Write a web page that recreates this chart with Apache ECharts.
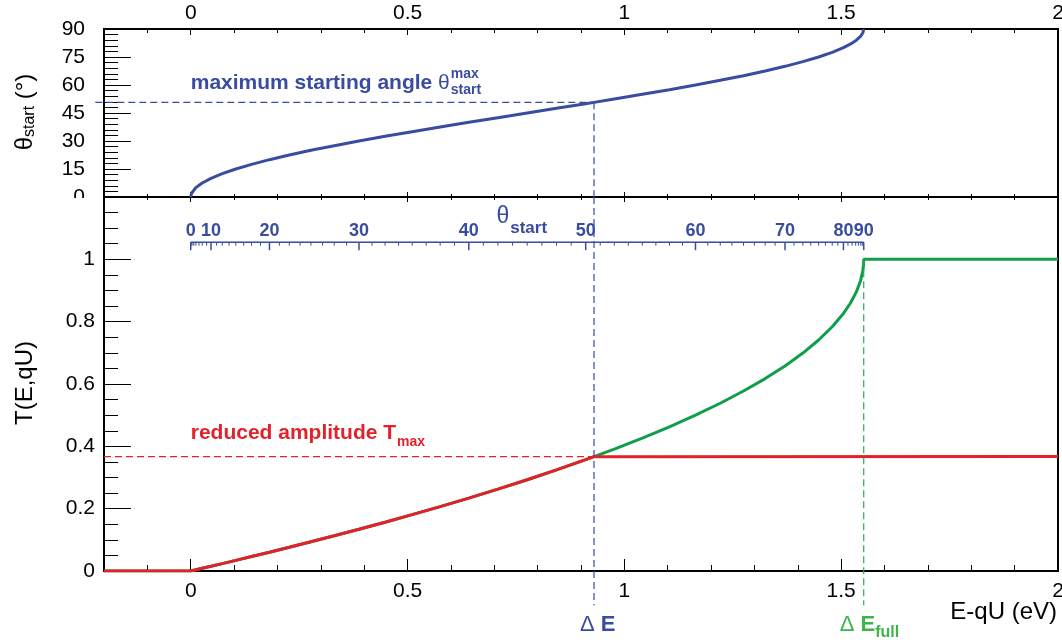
<!DOCTYPE html>
<html>
<head>
<meta charset="utf-8">
<script src="https://cdn.jsdelivr.net/npm/echarts@6/dist/echarts.min.js"></script>
<style>html,body{margin:0;padding:0;background:#fff}#c{width:1062px;height:644px}</style>
</head>
<body>
<div id="c"></div>
<script>
// ---- data ----
const energyCurve = [0, 0.0005, 0.0019, 0.0043, 0.0118, 0.0264, 0.0468, 0.0727, 0.1040, 0.1403, 0.1816, 0.2273, 0.2772, 0.3309, 0.3880, 0.4481, 0.5106, 0.5752, 0.6413, 0.7084, 0.7760, 0.8436, 0.9108, 0.9300, 0.9768, 1.0414, 1.1040, 1.1640, 1.2211, 1.2748, 1.3247, 1.3705, 1.4117, 1.4480, 1.4793, 1.5052, 1.5219, 1.5350, 1.5445, 1.5501, 1.5515, 1.5520];
const thetaCurve = [0, 1, 2, 3, 5, 7.5, 10, 12.5, 15, 17.5, 20, 22.5, 25, 27.5, 30, 32.5, 35, 37.5, 40, 42.5, 45, 47.5, 50, 50.7, 52.5, 55, 57.5, 60, 62.5, 65, 67.5, 70, 72.5, 75, 77.5, 80, 82, 84, 86, 88, 89, 90];
const transCurve = [0, 0.0002, 0.0006, 0.0014, 0.0038, 0.0086, 0.0152, 0.0237, 0.0341, 0.0463, 0.0603, 0.0761, 0.0937, 0.1130, 0.1340, 0.1566, 0.1809, 0.2067, 0.2340, 0.2627, 0.2929, 0.3244, 0.3572, 0.3669, 0.3912, 0.4264, 0.4627, 0.5000, 0.5383, 0.5774, 0.6173, 0.6580, 0.6993, 0.7412, 0.7836, 0.8264, 0.8608, 0.8955, 0.9302, 0.9651, 0.9826, 1.0];
const deltaE = 0.93;       // eV
const deltaEFull = 1.552;  // eV
const thetaMax = 50.7;     // deg
const tMax = 0.367;
const xRange = [-0.2, 2];
const xTickLabels = [0, 0.5, 1, 1.5, 2];
const thetaTickLabels = [0, 15, 30, 45, 60, 75, 90];
const tTickLabels = [0, 0.2, 0.4, 0.6, 0.8, 1];
const thetaAxisLabels = [0, 10, 20, 30, 40, 50, 60, 70, 80, 90];

// ---- styling ----
const FONT = '"Liberation Sans", Arial, Helvetica, sans-serif';
const BLUE = '#394ca0', RED = '#e3212b', GREEN = '#119e4a', GREEN_LABEL = '#3db54a', GREEN_DASH = '#2aab50';
const DASH = [7, 4];

const mctx = document.createElement('canvas').getContext('2d');
function tw(text, size, weight) { mctx.font = (weight || 'normal') + ' ' + size + 'px ' + FONT; return mctx.measureText(text).width; }
function txt(x, y, text, size, weight, color, align, extra) {
  return Object.assign({ type: 'text', x: x, y: y, style: { text: text, fontSize: size, fontWeight: weight || 'normal', fontFamily: FONT, fill: color, align: align || 'left', verticalAlign: 'middle' } }, extra || {});
}
function dline(a, b, color) {
  return { type: 'line', shape: { x1: a[0], y1: a[1], x2: b[0], y2: b[1] }, style: { stroke: color, lineWidth: 1.2, lineDash: DASH } };
}
// theta_start axis: position in E
function thetaToE(t) {
  for (let i = 1; i < thetaCurve.length; i++) {
    if (t <= thetaCurve[i]) {
      const f = (t - thetaCurve[i - 1]) / (thetaCurve[i] - thetaCurve[i - 1]);
      return energyCurve[i - 1] + f * (energyCurve[i] - energyCurve[i - 1]);
    }
  }
  return energyCurve[energyCurve.length - 1];
}
const thetaAxisTicks = [];
for (let t = 0; t <= 90.0001; t += 1.25) thetaAxisTicks.push(t);

const topData = energyCurve.map((e, i) => [e, thetaCurve[i]]);
const greenData = [[xRange[0], 0]].concat(energyCurve.map((e, i) => [e, transCurve[i]]), [[xRange[1], 1]]);
const redData = [[xRange[0], 0]].concat(energyCurve.map((e, i) => [e, transCurve[i]]).filter(p => p[0] <= deltaE + 1e-9), [[xRange[1], tMax]]);

function xAxisDef(grid, pos, len, major, labels, margin) {
  const a = {
    type: 'value', gridIndex: grid, position: pos, min: xRange[0], max: xRange[1],
    axisLine: { show: false, onZero: false }, splitLine: { show: false },
    axisTick: { show: true, inside: true, length: len, lineStyle: { color: '#000', width: 1 } },
    axisLabel: { show: false }
  };
  if (major) { a.axisTick.customValues = xTickLabels; } else { a.interval = 0.1; }
  if (labels) { a.axisLabel = { show: true, customValues: xTickLabels, fontSize: 21, fontFamily: FONT, color: '#000', margin: margin }; }
  return a;
}

const chart = echarts.init(document.getElementById('c'), null, { renderer: 'canvas' });

const option = {
  animation: false,
  backgroundColor: '#fff',
  grid: [
    { left: 104, top: 29, width: 954, height: 168, show: true, borderColor: '#000', borderWidth: 2, backgroundColor: 'transparent', outerBoundsMode: 'none', containLabel: false },
    { left: 104, top: 197, width: 954, height: 374, show: true, borderColor: '#000', borderWidth: 2, backgroundColor: 'transparent', outerBoundsMode: 'none', containLabel: false }
  ],
  xAxis: [
    xAxisDef(0, 'top', 4, false, true, 5),
    xAxisDef(0, 'top', 6, true, false),
    xAxisDef(0, 'bottom', 3, false, false),
    xAxisDef(0, 'bottom', 5, true, false),
    xAxisDef(1, 'bottom', 6, false, true, 10),
    xAxisDef(1, 'bottom', 12, true, false),
    xAxisDef(1, 'top', 3, false, false),
    xAxisDef(1, 'top', 5, true, false)
  ],
  yAxis: [
    { type: 'value', gridIndex: 0, min: 0, max: 90, interval: 15, position: 'left',
      axisLine: { show: false, onZero: false }, splitLine: { show: false },
      axisTick: { show: true, inside: true, length: 27, lineStyle: { color: '#000', width: 1 } },
      minorTick: { show: true, splitNumber: 5, length: 14, lineStyle: { color: '#000', width: 1 } },
      axisLabel: { customValues: thetaTickLabels, fontSize: 21, fontFamily: FONT, color: '#000', margin: 19 } },
    { type: 'value', gridIndex: 1, min: 0, max: 1.2, interval: 0.2, position: 'left',
      axisLine: { show: false, onZero: false }, splitLine: { show: false },
      axisTick: { show: true, inside: true, length: 27, lineStyle: { color: '#000', width: 1 } },
      minorTick: { show: true, splitNumber: 4, length: 14, lineStyle: { color: '#000', width: 1 } },
      axisLabel: { customValues: tTickLabels, fontSize: 21, fontFamily: FONT, color: '#000', margin: 9 } }
  ],
  series: [
    { type: 'line', name: 'theta_start', xAxisIndex: 0, yAxisIndex: 0, data: topData, showSymbol: false, symbol: 'none',
      lineStyle: { color: BLUE, width: 3 }, z: 3 },
    { type: 'line', name: 'T full', xAxisIndex: 4, yAxisIndex: 1, data: greenData, showSymbol: false, symbol: 'none',
      lineStyle: { color: GREEN, width: 3 }, z: 3 },
    { type: 'line', name: 'T reduced', xAxisIndex: 4, yAxisIndex: 1, data: redData, showSymbol: false, symbol: 'none',
      lineStyle: { color: RED, width: 3 }, z: 4 },
    { type: 'custom', name: 'top-annot', xAxisIndex: 0, yAxisIndex: 0, data: [[deltaE, thetaMax]], z: 5, silent: true,
      renderItem: function (params, api) {
        const a = api.coord([-0.22, thetaMax]);
        const b = api.coord([deltaE, thetaMax]);
        const c = api.coord([deltaE, 0]);
        const ch = [dline(a, b, BLUE), dline(b, c, BLUE)];
        const p = api.coord([0, 61]);
        const s1 = 'maximum starting angle ';
        let x = p[0];
        ch.push(txt(x, p[1], s1, 21, 'bold', BLUE));
        x += tw(s1, 21, 'bold');
        ch.push(txt(x, p[1], 'θ', 21, 'normal', BLUE));
        x += tw('θ', 21, 'normal') + 1;
        ch.push(txt(x, p[1] - 9, 'max', 14, 'bold', BLUE));
        ch.push(txt(x, p[1] + 7, 'start', 14, 'bold', BLUE));
        return { type: 'group', children: ch };
      } },
    { type: 'custom', name: 'bottom-annot', xAxisIndex: 4, yAxisIndex: 1, data: [[deltaE, tMax]], z: 5, silent: true,
      renderItem: function (params, api) {
        const ch = [];
        // dashed guide lines
        ch.push(dline(api.coord([deltaE, 1.2]), api.coord([deltaE, -0.11]), BLUE));
        ch.push(dline(api.coord([deltaEFull, 1]), api.coord([deltaEFull, -0.11]), GREEN_DASH));
        ch.push(dline(api.coord([xRange[0], tMax]), api.coord([deltaE, tMax]), RED));
        // theta_start secondary axis
        const yA = 1.055;
        const p0 = api.coord([thetaToE(0), yA]);
        const p1 = api.coord([thetaToE(90), yA]);
        ch.push({ type: 'line', shape: { x1: p0[0], y1: p0[1], x2: p1[0], y2: p1[1] }, style: { stroke: BLUE, lineWidth: 1.5 } });
        thetaAxisTicks.forEach(t => {
          const p = api.coord([thetaToE(t), yA]);
          const major = Math.abs(t / 10 - Math.round(t / 10)) < 1e-6;
          ch.push({ type: 'line', shape: { x1: p[0], y1: p[1], x2: p[0], y2: p[1] + (major ? 8 : 3.5) }, style: { stroke: BLUE, lineWidth: major ? 1.5 : 1 } });
        });
        thetaAxisLabels.forEach(t => {
          const p = api.coord([thetaToE(t), yA]);
          ch.push(txt(p[0], p[1] - 11, String(t), 18, 'bold', BLUE, 'center'));
        });
        const tp = api.coord([0.705, yA]);
        ch.push(txt(tp[0], tp[1] - 26, 'θ', 23, 'normal', BLUE));
        ch.push(txt(tp[0] + tw('θ', 23, 'normal') + 1, tp[1] - 14, 'start', 17, 'bold', BLUE));
        // reduced amplitude label
        const rp = api.coord([0, 0.443]);
        const s2 = 'reduced amplitude T';
        ch.push(txt(rp[0], rp[1], s2, 21, 'bold', RED));
        ch.push(txt(rp[0] + tw(s2, 21, 'bold') + 1, rp[1] + 9, 'max', 14, 'bold', RED));
        // Delta E labels
        const dp = api.coord([deltaE, -0.173]);
        let x = dp[0] - 14;
        ch.push(txt(x, dp[1], 'Δ', 22, 'normal', BLUE));
        x += tw('Δ ', 22, 'normal');
        ch.push(txt(x, dp[1], 'E', 22, 'bold', BLUE));
        const fp = api.coord([deltaEFull, -0.173]);
        x = fp[0] - 24;
        ch.push(txt(x, fp[1], 'Δ', 22, 'normal', GREEN_LABEL));
        x += tw('Δ ', 22, 'normal');
        ch.push(txt(x, fp[1], 'E', 22, 'bold', GREEN_LABEL));
        x += tw('E', 22, 'bold');
        ch.push(txt(x, fp[1] + 8, 'full', 16, 'bold', GREEN_LABEL));
        return { type: 'group', children: ch };
      } }
  ],
  graphic: []
};
chart.setOption(option);

// axis titles and cover for the clipped top-panel "0" label
const yT1 = 'θ', yT2 = 'start', yT3 = ' (°)';
const w1 = tw(yT1, 24), w2 = tw(yT2, 16), w3 = tw(yT3, 24);
const W = w1 + w2 + w3;
chart.setOption({
  graphic: [
    { type: 'rect', left: 40, top: 198, shape: { x: 0, y: 0, width: 62, height: 14 }, style: { fill: '#fff' }, z: 100 },
    { type: 'group', x: 25, y: 112, rotation: Math.PI / 2, children: [
      txt(-W / 2, 0, yT1, 24, 'normal', '#000'),
      txt(-W / 2 + w1, 5, yT2, 16, 'normal', '#000'),
      txt(-W / 2 + w1 + w2, 0, yT3, 24, 'normal', '#000')
    ] },
    txt(25, 383, 'T(E,qU)', 24, 'normal', '#000', 'center', { rotation: Math.PI / 2 }),
    txt(1057, 612, 'E-qU (eV)', 24, 'normal', '#000', 'right')
  ]
});
</script>
</body>
</html>
